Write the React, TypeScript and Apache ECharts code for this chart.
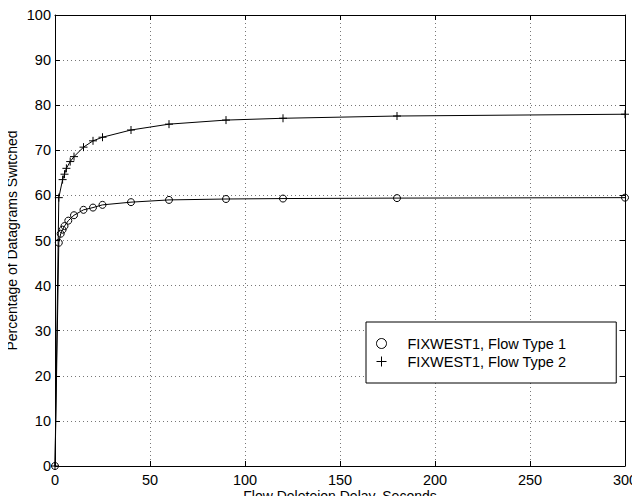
import React, { useEffect, useRef } from "react";
import * as echarts from "echarts";

const type1X = [0, 2, 3, 4, 5, 7, 10, 15, 20, 25, 40, 60, 90, 120, 180, 300];
const type1Y = [0, 49.5, 51.5, 52.4, 53.2, 54.4, 55.6, 56.8, 57.3, 57.9, 58.5, 59.0, 59.2, 59.3, 59.4, 59.5];
const type2X = [0, 2, 4, 5, 6, 8, 10, 15, 20, 25, 40, 60, 90, 120, 180, 300];
const type2Y = [0, 59.5, 63.5, 64.7, 66.0, 67.5, 68.6, 70.7, 72.1, 72.9, 74.5, 75.8, 76.7, 77.1, 77.6, 78.0];
const seriesNames = ["FIXWEST1, Flow Type 1", "FIXWEST1, Flow Type 2"];

const FONT = "Liberation Sans, Arial, Helvetica, sans-serif";
const PLUS = "path://M5,0L5,10M0,5L10,5";

export default function App() {
  const ref = useRef<HTMLDivElement>(null);
  useEffect(() => {
    if (!ref.current) return;
    const chart = echarts.init(ref.current, undefined, { renderer: "svg" });
    const axisCommon = {
      type: "value" as const,
      nameMoveOverlap: false,
      axisLine: { show: true, onZero: false, lineStyle: { color: "#000", width: 1 } },
      axisTick: { show: true, inside: true, length: 5, lineStyle: { color: "#000" } },
    };
    chart.setOption({
      animation: false,
      backgroundColor: "#fff",
      textStyle: { fontFamily: FONT },
      grid: { left: 55, right: 15, top: 15, bottom: 38, outerBoundsMode: "none", containLabel: false },
      xAxis: [
        {
          ...axisCommon,
          min: 0,
          max: 300,
          interval: 50,
          position: "bottom",
          name: "Flow Deleteion Delay, Seconds",
          nameLocation: "middle",
          nameGap: 22,
          nameTextStyle: { color: "#000", fontSize: 14, lineHeight: 15, fontFamily: FONT },
          axisLabel: { color: "#000", fontSize: 14.5, lineHeight: 15, margin: 6, fontFamily: FONT },
          splitLine: { show: true, lineStyle: { color: "#777", type: [1, 3], width: 1 } },
        },
        {
          ...axisCommon,
          min: 0,
          max: 300,
          interval: 50,
          position: "top",
          axisLabel: { show: false },
          splitLine: { show: false },
        },
      ],
      yAxis: [
        {
          ...axisCommon,
          min: 0,
          max: 100,
          interval: 10,
          position: "left",
          name: "Percentage of Datagrams Switched",
          nameLocation: "middle",
          nameGap: 36,
          nameRotate: 90,
          nameTextStyle: { color: "#000", fontSize: 14, fontFamily: FONT },
          axisLabel: { color: "#000", fontSize: 14.5, margin: 4, fontFamily: FONT },
          splitLine: { show: true, lineStyle: { color: "#777", type: [1, 3], width: 1 } },
        },
        {
          ...axisCommon,
          min: 0,
          max: 100,
          interval: 10,
          position: "right",
          axisLabel: { show: false },
          splitLine: { show: false },
        },
      ],
      legend: {
        orient: "vertical",
        left: 366,
        top: 322,
        padding: [14, 50, 14, 10],
        itemGap: 3,
        itemWidth: 10,
        itemHeight: 10,
        backgroundColor: "#fff",
        borderColor: "#000",
        borderWidth: 1,
        borderRadius: 0,
        textStyle: { color: "#000", fontSize: 14.5, fontFamily: FONT, padding: [0, 0, 0, 16] },
        data: [
          {
            name: seriesNames[0],
            icon: "circle",
            itemStyle: { color: "transparent", borderColor: "#000", borderWidth: 1 },
          },
          {
            name: seriesNames[1],
            icon: PLUS,
            itemStyle: { color: "transparent", borderColor: "#000", borderWidth: 1 },
          },
        ],
      },
      series: [
        {
          name: seriesNames[0],
          type: "line",
          xAxisIndex: 0,
          yAxisIndex: 0,
          data: type1X.map((x, i) => [x, type1Y[i]]),
          symbol: "circle",
          symbolSize: 7,
          showAllSymbol: true,
          itemStyle: { color: "transparent", borderColor: "#000", borderWidth: 1 },
          lineStyle: { color: "#000", width: 1 },
        },
        {
          name: seriesNames[1],
          type: "line",
          xAxisIndex: 0,
          yAxisIndex: 0,
          data: type2X.map((x, i) => [x, type2Y[i]]),
          symbol: PLUS,
          symbolSize: 8,
          showAllSymbol: true,
          itemStyle: { color: "transparent", borderColor: "#000", borderWidth: 1 },
          lineStyle: { color: "#000", width: 1 },
        },
      ],
    });
    return () => chart.dispose();
  }, []);
  return <div ref={ref} style={{ width: 640, height: 504, margin: -8 }} />;
}
